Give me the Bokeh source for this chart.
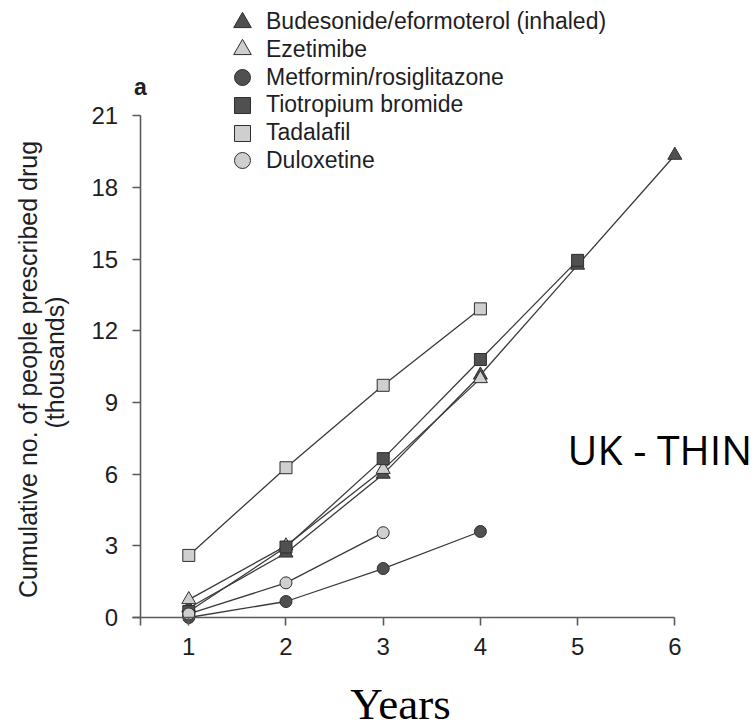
import math
from bokeh.plotting import figure
from bokeh.models import LinearAxis, FixedTicker, Legend, LegendItem, Label
from bokeh.embed import file_html
from bokeh.resources import INLINE

# ---- data ----
years = [1, 2, 3, 4, 5, 6]
budesonide = [0.4, 2.7, 6.0, 10.15, 14.75, 19.35]
ezetimibe = [0.75, 3.0, 6.2, 10.0]
metformin = [0.0, 0.67, 2.05, 3.6]
tiotropium = [0.25, 2.95, 6.65, 10.8, 14.95]
tadalafil = [2.6, 6.27, 9.72, 12.92]
duloxetine = [0.15, 1.45, 3.55]

names = ["Budesonide/eformoterol (inhaled)", "Ezetimibe", "Metformin/rosiglitazone",
         "Tiotropium bromide", "Tadalafil", "Duloxetine"]
x_ticks = [1, 2, 3, 4, 5, 6]
y_ticks = [0, 3, 6, 9, 12, 15, 18, 21]

DARK = "#505050"
LIGHT = "#cfcfcf"
EDGE = "#2e2e2e"
LINE = "#3a3a3a"
TEXT = "#1e1e24"

series = [
    (names[0], budesonide, "triangle", DARK, 14),
    (names[1], ezetimibe, "triangle", LIGHT, 14),
    (names[2], metformin, "circle", DARK, 12),
    (names[3], tiotropium, "square", DARK, 12),
    (names[4], tadalafil, "square", LIGHT, 12),
    (names[5], duloxetine, "circle", LIGHT, 12),
]

W, H = 755, 727
# frame spans the whole canvas; ranges chosen so that the axes land where the reference has them
p = figure(width=W, height=H,
           x_range=(-0.937, 6.830), y_range=(-4.604, 25.827),
           output_backend="svg", toolbar_location=None,
           x_axis_location=None, y_axis_location=None,
           min_border_left=0, min_border_right=0,
           min_border_top=0, min_border_bottom=0)
p.outline_line_color = None
p.xgrid.grid_line_color = None
p.ygrid.grid_line_color = None
p.background_fill_color = "white"
p.border_fill_color = "white"

def style_axis(ax, standoff):
    ax.axis_line_color = "#5a5a5a"
    ax.axis_line_width = 1.6
    ax.major_tick_line_color = "#5a5a5a"
    ax.major_tick_line_width = 1.6
    ax.major_tick_out = 8
    ax.major_tick_in = 0
    ax.minor_tick_out = 0
    ax.minor_tick_in = 0
    ax.major_label_text_font = "Liberation Sans"
    ax.major_label_text_font_size = "24px"
    ax.major_label_text_color = TEXT
    ax.major_label_standoff = standoff

xaxis = LinearAxis(fixed_location=0, ticker=FixedTicker(ticks=x_ticks), bounds=(0.42, 6.0))
style_axis(xaxis, 12)
p.add_layout(xaxis, "below")

yaxis = LinearAxis(fixed_location=0.5, ticker=FixedTicker(ticks=y_ticks), bounds=(-0.35, 21))
style_axis(yaxis, 14)
p.add_layout(yaxis, "left")

renderers = []
for name, vals, marker, fill, size in series:
    xs = years[:len(vals)]
    p.line(xs, vals, line_color=LINE, line_width=1.3)
for name, vals, marker, fill, size in series:
    xs = years[:len(vals)]
    r = p.scatter(xs, vals, marker=marker, size=size, fill_color=fill,
                  line_color=EDGE, line_width=1.0)
    renderers.append((name, marker, r))

# legend: one single-item legend per row (so markers can be large with tight rows)
row_top = 21.7
row_pitch = 27.7
marker_cx = 242
text_x = 266
for i, (name, marker, r) in enumerate(renderers):
    cy = row_top + i * row_pitch
    g = 44 if marker == "triangle" else 40
    lg = Legend(items=[LegendItem(label=name, renderers=[r])],
                location=(marker_cx - g / 2, H - (cy + g / 2)))
    lg.background_fill_alpha = 0
    lg.border_line_color = None
    lg.padding = 0
    lg.margin = 0
    lg.spacing = 0
    lg.glyph_width = g
    lg.glyph_height = g
    lg.label_height = 20
    lg.label_standoff = int(text_x - (marker_cx + g / 2))
    lg.label_text_font = "Liberation Sans"
    lg.label_text_font_size = "23px"
    lg.label_text_color = TEXT
    lg.label_text_baseline = "middle"
    p.add_layout(lg)

def lab(x, y, text, **kw):
    p.add_layout(Label(x=x, y=H - y, x_units="screen", y_units="screen", text=text, **kw))

# panel letter
lab(140, 86.5, "a", text_font="Liberation Sans", text_font_style="bold",
    text_font_size="23px", text_color=TEXT, text_align="center", text_baseline="alphabetic")
# y axis title (two lines)
lab(27.5, 369, "Cumulative no. of people prescribed drug", angle=math.pi / 2,
    text_font="Liberation Sans", text_font_size="25px", text_color=TEXT,
    text_align="center", text_baseline="alphabetic")
lab(54, 362, "(thousands)", angle=math.pi / 2,
    text_font="Liberation Sans", text_font_size="25px", text_color=TEXT,
    text_align="center", text_baseline="alphabetic")
# x axis title
lab(400, 703, "Years", text_font="Liberation Serif", text_font_size="45px",
    text_color="black", text_align="center", text_baseline="alphabetic")
# source note
lab(567, 448.5, "UK - THIN", text_font="Open Sans", text_font_size="41px",
    text_color="black", text_align="left", text_baseline="alphabetic")

open("out.html", "w").write(file_html(p, INLINE))
